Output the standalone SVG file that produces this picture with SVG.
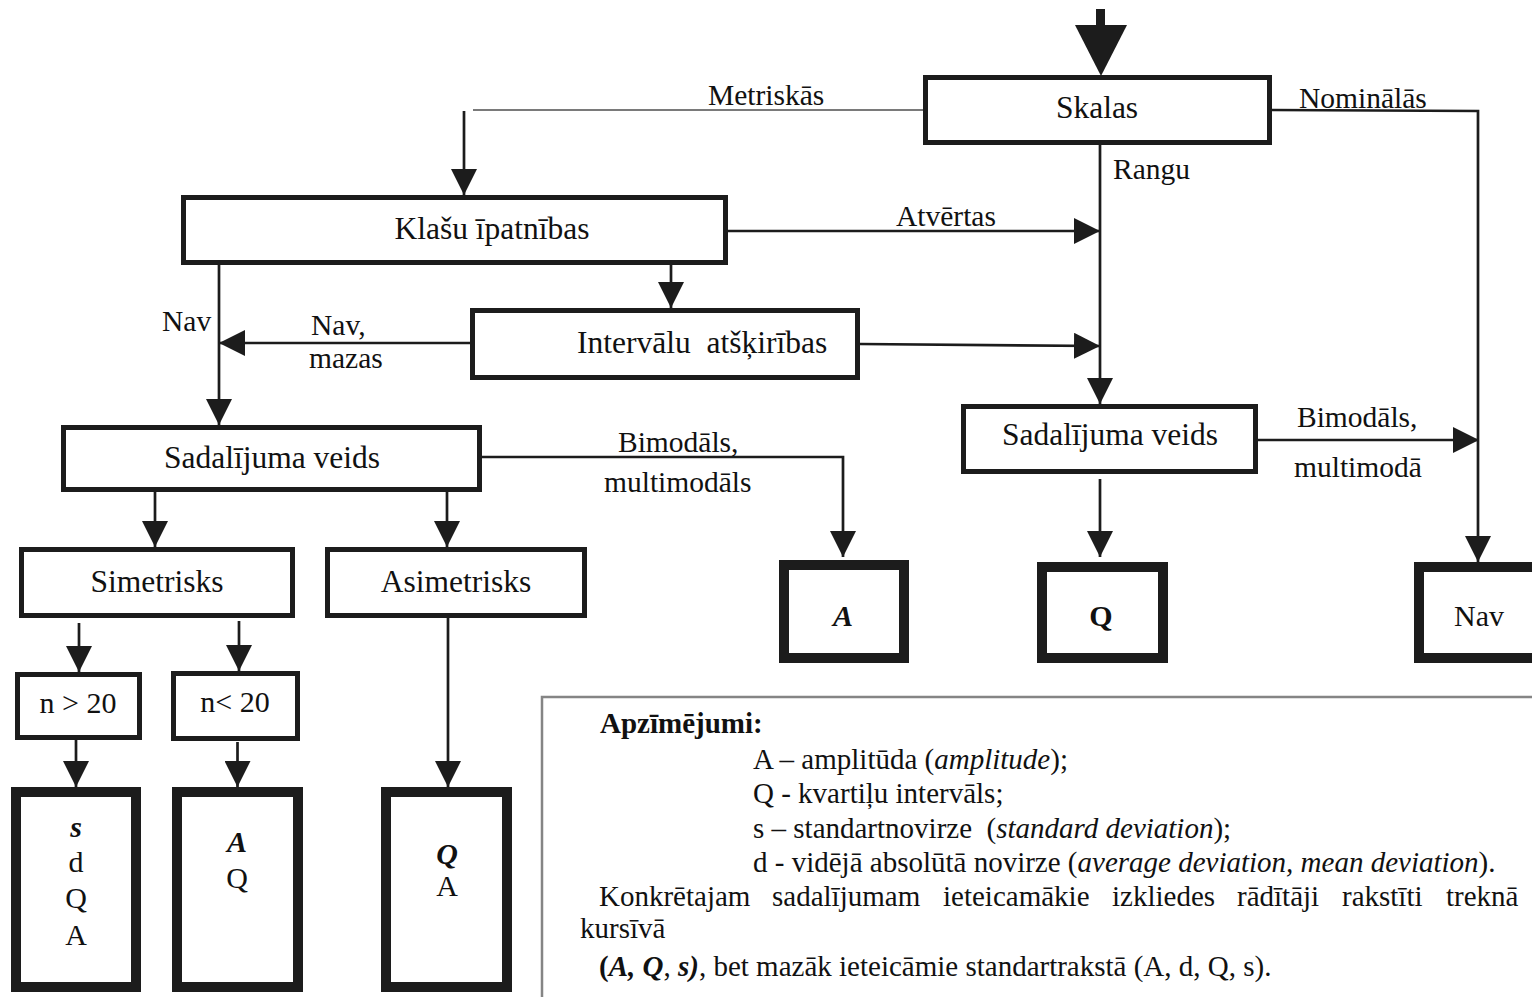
<svg xmlns="http://www.w3.org/2000/svg" width="1532" height="997" viewBox="0 0 1532 997">
<style>
text{font-family:"Liberation Serif","Times New Roman",serif;fill:#111}
.box{fill:#fff;stroke:#1c1c1c;stroke-width:5}
.res{fill:#fff;stroke:#1c1c1c;stroke-width:10}
.bt{font-size:31.5px;text-anchor:middle}
.lb{font-size:29.5px}
.rt{font-size:30px;text-anchor:middle}
.lg{font-size:29px}
.ln{fill:none;stroke:#1c1c1c;stroke-width:2.7}
.gr{fill:none;stroke:#7a7a7a;stroke-width:2.2}
.i{font-style:italic}
.b{font-weight:bold}
</style>
<defs>
<marker id="ah" markerUnits="userSpaceOnUse" markerWidth="27" markerHeight="26" refX="26" refY="13" orient="auto">
<path d="M0,0 L26,13 L0,26 z" fill="#1c1c1c"/>
</marker>
</defs>
<rect width="1532" height="997" fill="#fff"/>

<g id="connectors">
<rect x="1096" y="9" width="9" height="18" fill="#1c1c1c"/>
<polygon points="1075,25 1127,25 1101,76" fill="#1c1c1c"/>
<line class="gr" x1="473" y1="110" x2="925" y2="110"/>
<polyline class="ln" points="464,111 464,195" marker-end="url(#ah)"/>
<polyline class="ln" points="1272,110 1478,111 1478,562" marker-end="url(#ah)"/>
<polyline class="ln" points="1100,145 1100,404" marker-end="url(#ah)"/>
<polyline class="ln" points="728,231 1100,231" marker-end="url(#ah)"/>
<polyline class="ln" points="860,344 1100,346" marker-end="url(#ah)"/>
<polyline class="ln" points="671,265 671,308" marker-end="url(#ah)"/>
<polyline class="ln" points="219,265 219,425" marker-end="url(#ah)"/>
<polyline class="ln" points="470,343 219,343" marker-end="url(#ah)"/>
<polyline class="ln" points="482,457 843,457 843,557" marker-end="url(#ah)"/>
<polyline class="ln" points="155,492 155,547" marker-end="url(#ah)"/>
<polyline class="ln" points="447,492 447,547" marker-end="url(#ah)"/>
<polyline class="ln" points="79,623 79,672" marker-end="url(#ah)"/>
<polyline class="ln" points="239,621 239,671" marker-end="url(#ah)"/>
<polyline class="ln" points="76,737 76,787" marker-end="url(#ah)"/>
<polyline class="ln" points="237.5,742 237.5,787" marker-end="url(#ah)"/>
<polyline class="ln" points="448,618 448,787" marker-end="url(#ah)"/>
<polyline class="ln" points="1100,479 1100,557" marker-end="url(#ah)"/>
<polyline class="ln" points="1258,440 1479,440" marker-end="url(#ah)"/>
<text class="lb" x="708" y="105">Metriskās</text>
<text class="lb" x="1299" y="108">Nominālās</text>
<text class="lb" x="1113" y="179">Rangu</text>
<text class="lb" x="896" y="226">Atvērtas</text>
<text class="lb" x="162" y="331">Nav</text>
<text class="lb" x="311" y="335">Nav,</text>
<text class="lb" x="309" y="368">mazas</text>
<text class="lb" x="618" y="452">Bimodāls,</text>
<text class="lb" x="604" y="492">multimodāls</text>
<text class="lb" x="1297" y="427">Bimodāls,</text>
<text class="lb" x="1294" y="477">multimodā</text>
</g>

<g id="skalas"><rect class="box" x="925.5" y="77.5" width="344" height="65"/><text class="bt" x="1097" y="118">Skalas</text></g>
<g id="klasu"><rect class="box" x="183.5" y="197.5" width="542" height="65"/><text class="bt" x="492" y="239">Klašu īpatnības</text></g>
<g id="intervalu"><rect class="box" x="472.5" y="310.5" width="385" height="67"/><text class="bt" x="577" y="353" style="text-anchor:start;white-space:pre">Intervālu  atšķirības</text></g>
<g id="sadal-left"><rect class="box" x="63.5" y="427.5" width="416" height="62"/><text class="bt" x="272" y="468">Sadalījuma veids</text></g>
<g id="simetrisks"><rect class="box" x="21.5" y="549.5" width="271" height="66"/><text class="bt" x="157" y="592">Simetrisks</text></g>
<g id="asimetrisks"><rect class="box" x="327.5" y="549.5" width="257" height="66"/><text class="bt" x="456" y="592">Asimetrisks</text></g>
<g id="n-gt-20"><rect class="box" x="17.5" y="674.5" width="122" height="63"/><text class="rt" x="78" y="713">n &gt; 20</text></g>
<g id="n-lt-20"><rect class="box" x="173.5" y="673.5" width="124" height="65"/><text class="rt" x="235" y="712">n&lt; 20</text></g>
<g id="sadal-right"><rect class="box" x="963.5" y="406.5" width="292" height="65"/><text class="bt" x="1110" y="445">Sadalījuma veids</text></g>

<g id="res-A"><rect class="res" x="784" y="565" width="120" height="93"/><text class="rt b i" x="843" y="626">A</text></g>
<g id="res-Q"><rect class="res" x="1042" y="567" width="121" height="91"/><text class="rt b" x="1101" y="626">Q</text></g>
<g id="res-Nav"><rect class="res" x="1419" y="567" width="120" height="91"/><text class="rt" x="1479" y="626">Nav</text></g>
<g id="res-sdqa"><rect class="res" x="16" y="792" width="120" height="195"/>
<text class="rt b i" x="76" y="837">s</text><text class="rt" x="76" y="872">d</text><text class="rt" x="76" y="908">Q</text><text class="rt" x="76" y="945">A</text></g>
<g id="res-aq"><rect class="res" x="177" y="792" width="121" height="195"/>
<text class="rt b i" x="237" y="852">A</text><text class="rt" x="237" y="888">Q</text></g>
<g id="res-qa"><rect class="res" x="386" y="792" width="121" height="195"/>
<text class="rt b i" x="447" y="864">Q</text><text class="rt" x="447" y="896">A</text></g>

<g id="legend">
<rect x="542" y="697" width="1010" height="320" fill="none" stroke="#858585" stroke-width="2.5"/>
<text class="lg b" x="600" y="733">Apzīmējumi:</text>
<text class="lg" x="753" y="769">A – amplitūda (<tspan class="i">amplitude</tspan>);</text>
<text class="lg" x="753" y="803">Q - kvartiļu intervāls;</text>
<text class="lg" x="753" y="838" style="white-space:pre">s – standartnovirze  (<tspan class="i">standard deviation</tspan>);</text>
<text class="lg" x="753" y="872">d - vidējā absolūtā novirze (<tspan class="i">average deviation, mean deviation</tspan>).</text>
<text class="lg" y="906"><tspan x="599">Konkrētajam</tspan><tspan x="772">sadalījumam</tspan><tspan x="943">ieteicamākie</tspan><tspan x="1112">izkliedes</tspan><tspan x="1237">rādītāji</tspan><tspan x="1342">rakstīti</tspan><tspan x="1446">treknā</tspan></text>
<text class="lg" x="580" y="938">kursīvā</text>
<text class="lg" x="599" y="976"><tspan class="b">(</tspan><tspan class="b i">A, Q</tspan>, <tspan class="b i">s)</tspan>, bet mazāk ieteicāmie standartrakstā (A, d, Q, s).</text>
</g>
</svg>
